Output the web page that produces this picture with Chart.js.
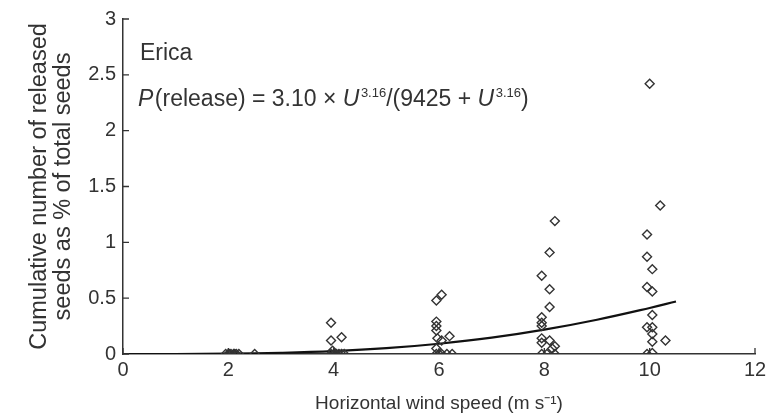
<!DOCTYPE html>
<html>
<head>
<meta charset="utf-8">
<script src="https://cdn.jsdelivr.net/npm/chart.js@4.4.1/dist/chart.umd.min.js"></script>
<style>
  html, body { margin: 0; padding: 0; background: #fff; }
  #wrap { width: 778px; height: 415px; }
</style>
</head>
<body>
<div id="wrap"><canvas id="seedchart"></canvas></div>
<script>
// observed releases (wind speed in m/s, % of total seeds)
var windSpeed = [1.95, 2.0, 2.05, 2.1, 2.15, 2.2, 2.02, 2.12, 2.5,
    3.95, 4.0, 4.05, 4.1, 4.15, 4.2, 4.02, 3.95, 3.95, 4.15, 3.98,
    5.95, 6.05, 5.95, 5.95, 5.95, 5.97, 6.2, 6.05, 5.95, 5.95, 6.0, 6.05, 6.15, 6.25,
    8.2, 8.1, 7.95, 8.1, 8.1, 7.95, 7.95, 7.95, 7.95, 8.1, 7.95, 8.2, 8.15, 7.95, 8.05, 8.2,
    10.0, 10.2, 9.95, 9.95, 10.05, 9.95, 10.05, 10.05, 9.95, 10.05, 10.05, 10.05, 10.3, 9.95, 10.05];
var releasedPct = [0, 0, 0, 0, 0, 0, 0, 0, 0,
    0, 0, 0, 0, 0, 0, 0, 0.28, 0.12, 0.15, 0.03,
    0.48, 0.53, 0.29, 0.25, 0.21, 0.14, 0.16, 0.12, 0.05, 0, 0, 0, 0, 0,
    1.19, 0.91, 0.70, 0.58, 0.42, 0.33, 0.28, 0.25, 0.14, 0.12, 0.10, 0.07, 0.05, 0, 0, 0,
    2.42, 1.33, 1.07, 0.87, 0.76, 0.60, 0.56, 0.35, 0.24, 0.24, 0.18, 0.11, 0.12, 0, 0.01];

// fitted curve
var curveSpeed = [0, 1, 2, 3, 4, 5, 6, 7, 8, 9, 10, 10.5];
var curvePct = [0, 0, 0.003, 0.011, 0.026, 0.052, 0.092, 0.146, 0.218, 0.307, 0.412, 0.47];

var xTicks = [0, 2, 4, 6, 8, 10, 12];
var yTicks = [0, 0.5, 1, 1.5, 2, 2.5, 3];

var textColor = '#333';
var fontName = '"Liberation Sans", Arial, sans-serif';

var scatterPts = [];
for (var i = 0; i < windSpeed.length; i++) {
    scatterPts.push({ x: windSpeed[i], y: releasedPct[i] });
}
var curvePts = [];
for (var j = 0; j < curveSpeed.length; j++) {
    curvePts.push({ x: curveSpeed[j], y: curvePct[j] });
}

// inward tick marks + the text inside the plot
var extras = {
    id: 'extras',
    afterDraw: function(chart) {
        var ctx = chart.ctx;
        var xs = chart.scales.x, ys = chart.scales.y;
        var area = chart.chartArea;
        ctx.save();
        ctx.strokeStyle = textColor;
        ctx.lineWidth = 1.3;
        ctx.beginPath();
        xTicks.forEach(function(t) {
            var px = xs.getPixelForValue(t);
            ctx.moveTo(px, area.bottom);
            ctx.lineTo(px, area.bottom - 6);
        });
        yTicks.forEach(function(t) {
            var py = ys.getPixelForValue(t);
            ctx.moveTo(area.left, py);
            ctx.lineTo(area.left + 6, py);
        });
        ctx.stroke();

        ctx.fillStyle = textColor;
        ctx.textBaseline = 'alphabetic';
        ctx.textAlign = 'left';
        ctx.font = '23px ' + fontName;
        ctx.fillText('Erica', 140, 60);

        // P(release) = 3.10 × U^3.16/(9425 + U^3.16)
        var parts = [
            ['P', 'italic 23px ', 0],
            ['(release) = 3.10 \u00d7 ', '23px ', 0],
            ['U', 'italic 23px ', 0],
            ['3.16', '13px ', -9],
            ['/(9425 + ', '23px ', 0],
            ['U', 'italic 23px ', 0],
            ['3.16', '13px ', -9],
            [')', '23px ', 0]
        ];
        var cx = 138, base = 106;
        parts.forEach(function(p) {
            ctx.font = p[1] + fontName;
            ctx.fillText(p[0], cx, base + p[2]);
            cx += ctx.measureText(p[0]).width + (p[1].indexOf('italic') >= 0 ? 1.5 : 0);
        });
        ctx.restore();
    }
};

new Chart(document.getElementById('seedchart'), {
    type: 'scatter',
    data: {
        datasets: [{
                label: 'fit',
                type: 'line',
                data: curvePts,
                borderColor: '#111',
                borderWidth: 2.2,
                pointRadius: 0,
                tension: 0.4,
                fill: false,
                order: 2
            },
            {
                label: 'observed',
                data: scatterPts,
                pointStyle: 'rectRot',
                pointRadius: 4.5,
                borderColor: '#333',
                borderWidth: 1.4,
                backgroundColor: 'rgba(0,0,0,0)',
                order: 1
            }
        ]
    },
    plugins: [extras],
    options: {
        responsive: true,
        maintainAspectRatio: false,
        animation: false,
        layout: {
            padding: { top: 17, right: 23, left: 0, bottom: 0 }
        },
        plugins: {
            legend: { display: false },
            tooltip: { enabled: false }
        },
        scales: {
            x: {
                type: 'linear',
                min: 0,
                max: 12,
                afterBuildTicks: function(scale) {
                    scale.ticks = xTicks.map(function(v) { return { value: v }; });
                },
                grid: { display: false, drawTicks: false },
                border: { display: true, color: textColor, width: 1.5 },
                ticks: {
                    color: textColor,
                    font: { family: fontName, size: 20 },
                    padding: 4,
                    maxRotation: 0
                },
                title: {
                    display: true,
                    text: 'Horizontal wind speed (m s\u207b\u00b9)',
                    color: textColor,
                    font: { family: fontName, size: 19 },
                    padding: { top: 1, bottom: 0 }
                },
                afterFit: function(scale) { scale.height = 61; }
            },
            y: {
                type: 'linear',
                min: 0,
                max: 3,
                afterBuildTicks: function(scale) {
                    scale.ticks = yTicks.map(function(v) { return { value: v }; });
                },
                grid: { display: false, drawTicks: false },
                border: { display: true, color: textColor, width: 1.5 },
                ticks: {
                    color: textColor,
                    font: { family: fontName, size: 20 },
                    padding: 7,
                    callback: function(v) { return String(v); }
                },
                title: {
                    display: true,
                    text: ['Cumulative number of released', 'seeds as % of total seeds'],
                    color: textColor,
                    font: { family: fontName, size: 23.5, lineHeight: 0.98 },
                    padding: { top: 28.5, bottom: 0 }
                },
                afterFit: function(scale) { scale.width = 123; }
            }
        }
    }
});
</script>
</body>
</html>
